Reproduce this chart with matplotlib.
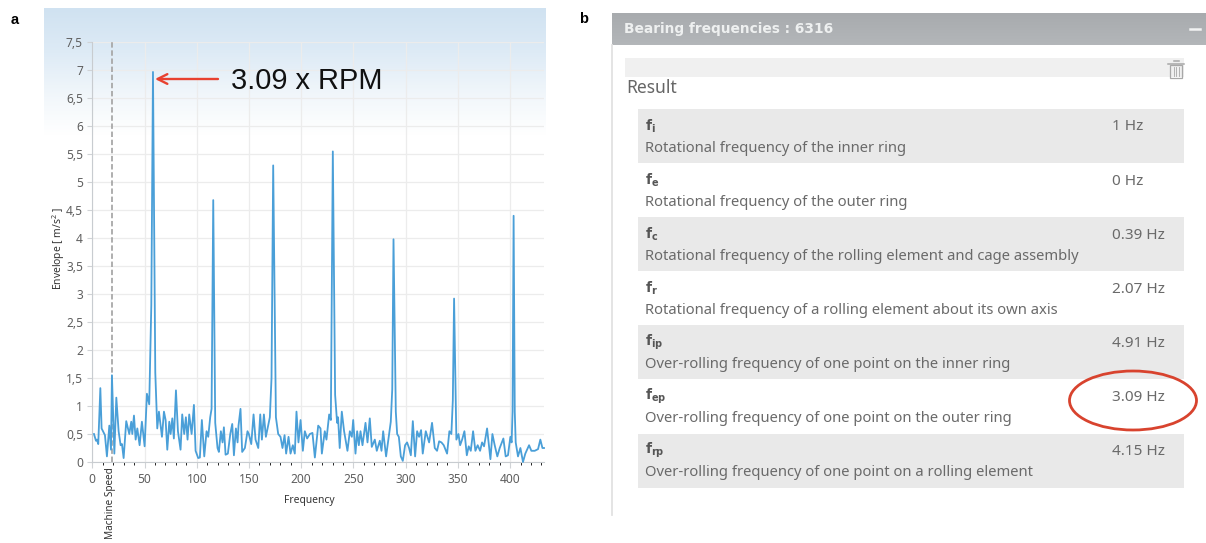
import numpy as np
import matplotlib
matplotlib.use("Agg")
import matplotlib.pyplot as plt
from matplotlib.patches import Rectangle, Ellipse
from matplotlib.colors import LinearSegmentedColormap

freq = [1.6,3.5,4.5,5.7,7.7,8.9,12.1,14.0,16.3,17.9,18.8,21.1,23.0,25.2,27.1,28.4,30.0,32.5,35.4,37.3,38.3,39.9,41.5,43.1,45.3,47.5,50.1,52.3,54.5,56.5,58.1,60.3,62.2,63.8,66.7,68.6,70.2,71.8,73.7,75.0,76.6,78.1,80.1,82.0,84.5,86.1,88.0,89.6,91.2,92.8,95.1,97.3,98.9,101.4,103.0,104.9,107.2,109.4,111.0,112.9,114.2,115.8,117.7,119.9,121.2,123.1,124.7,126.0,127.6,129.8,132.1,134.0,135.6,137.5,139.1,140.0,141.9,143.5,146.1,148.6,149.9,152.2,154.4,156.3,158.9,160.8,162.4,164.3,166.2,168.4,170.0,171.6,173.2,175.8,178.0,180.2,182.1,184.1,185.6,187.9,189.8,192.0,193.9,195.5,197.4,199.4,201.6,203.5,205.7,208.3,210.8,213.1,216.3,218.5,219.8,222.6,224.2,226.8,228.4,230.3,232.5,234.4,235.3,236.9,238.9,241.1,244.3,246.6,248.5,249.8,252.0,253.6,255.2,256.8,258.7,261.6,263.5,265.7,267.6,270.5,272.4,275.3,276.9,278.5,281.3,284.2,285.8,287.2,288.4,290.6,291.9,293.5,295.4,297.3,299.5,301.4,303.3,305.0,306.9,309.1,311.0,312.9,314.8,316.4,319.3,322.5,325.3,327.9,330.1,332.1,334.3,336.5,339.7,341.9,343.8,345.2,346.4,348.6,350.6,352.2,354.1,356.3,358.6,360.4,362.4,364.6,366.8,369.0,371.3,373.2,375.1,378.0,381.2,383.1,385.3,387.8,390.1,393.6,395.8,398.0,400.3,401.5,402.4,403.4,404.5,405.4,407.6,409.9,412.4,414.6,418.2,420.4,423.6,426.8,429.0,431.0,432.5]
envelope = [.5,.38,.4,.32,1.32,.6,.48,.1,.65,.22,1.55,.15,1.15,.55,.3,.32,.07,.73,.5,.72,.5,.83,.4,.6,.3,.72,.28,1.22,1.03,2.8,6.97,1.6,.6,.9,.45,.9,.75,.22,.72,.5,.78,.42,1.28,.55,.22,.85,.5,.8,.4,.85,.5,1.02,.2,.07,.08,.75,.1,.55,.45,.8,.95,4.68,.7,.25,.18,.55,.35,.62,.13,.15,.5,.68,.12,.6,.35,.65,.95,.18,.25,.55,.5,.32,.85,.4,.25,.85,.4,.85,.45,.65,.8,1.5,5.3,.8,.5,.45,.25,.48,.15,.45,.15,.3,.15,.9,.35,.75,.2,.55,.42,.5,.52,.08,.65,.6,.15,.55,.4,.85,.75,5.55,1.2,.7,.8,.25,.9,.55,.2,.55,.45,.75,.15,.55,.3,.55,.3,.7,.35,.78,.27,.4,.2,.38,.2,.55,.1,.5,.72,1.3,3.98,.9,.5,.45,.1,.02,.3,.35,.25,.12,.73,.1,.55,.45,.57,.15,.55,.35,.7,.25,.2,.37,.35,.3,.15,.55,.5,1.1,2.92,.4,.5,.3,.4,.55,.12,.28,.2,.55,.2,.3,.2,.35,.28,.6,.05,.5,.3,.1,.25,.42,.1,.12,.45,.35,.9,4.4,.9,.35,.1,.25,0,.15,.3,.2,.2,.23,.4,.25,.25]
machine_speed = 18.8
x_ticks = [0,50,100,150,200,250,300,350,400]
y_ticks = [0,.5,1,1.5,2,2.5,3,3.5,4,4.5,5,5.5,6,6.5,7,7.5]
y_tick_labels = ['0','0,5','1','1,5','2','2,5','3','3,5','4','4,5','5','5,5','6','6,5','7','7,5']
symbols = ['i','e','c','r','ip','ep','rp']
descriptions = ['Rotational frequency of the inner ring',
                'Rotational frequency of the outer ring',
                'Rotational frequency of the rolling element and cage assembly',
                'Rotational frequency of a rolling element about its own axis',
                'Over-rolling frequency of one point on the inner ring',
                'Over-rolling frequency of one point on the outer ring',
                'Over-rolling frequency of one point on a rolling element']
values = ['1 Hz','0 Hz','0.39 Hz','2.07 Hz','4.91 Hz','3.09 Hz','4.15 Hz']

W, H = 1206, 543
plt.rcParams['font.family'] = ['Noto Sans', 'DejaVu Sans']
plt.rcParams['mathtext.fontset'] = 'custom'
plt.rcParams['mathtext.bf'] = 'DejaVu Sans:bold'
plt.rcParams['mathtext.rm'] = 'Noto Sans'
fig = plt.figure(figsize=(W/100, H/100), dpi=100)
bg = fig.add_axes([0, 0, 1, 1])
bg.set_xlim(0, W); bg.set_ylim(H, 0); bg.axis('off')

# panel a background
cm = LinearSegmentedColormap.from_list('b', [(0, '#d0e2f1'), (.35, '#deebf6'), (.7, '#f2f7fb'), (1, '#ffffff')])
bg.imshow(np.linspace(0, 1, 128)[:, None], cmap=cm, extent=(44, 546, 135, 8), aspect='auto', zorder=0)
bg.set_xlim(0, W); bg.set_ylim(H, 0)

bg.text(15, 20, 'a', fontsize=10.5, fontweight='bold', family='Liberation Sans', ha='center', va='center')
bg.text(584, 19, 'b', fontsize=10.5, fontweight='bold', family='Liberation Sans', ha='center', va='center')

# chart
ax = fig.add_axes([92.3/W, 1-462/H, (544-92.3)/W, (462-42.3)/H])
ax.patch.set_alpha(0)
ax.set_xlim(0, 432.5); ax.set_ylim(0, 7.5)
ax.grid(True, color='#ececec', lw=0.9)
ax.set_axisbelow(True)
for s in ['top', 'right']:
    ax.spines[s].set_visible(False)
for s in ['left', 'bottom']:
    ax.spines[s].set_color('#c8ccd0')
ax.set_xticks(x_ticks)
ax.set_xticks(np.arange(0, 431, 10), minor=True)
ax.set_yticks(y_ticks)
ax.set_yticklabels(y_tick_labels)
ax.tick_params(axis='both', labelsize=8.6, labelcolor='#5f5f5f', color='#d0d3d6', length=0)
ax.tick_params(axis='y', length=3.5, pad=3.2)
ax.tick_params(axis='x', which='major', length=4, pad=4)
ax.tick_params(axis='x', which='minor', length=2.5)
ax.axvline(machine_speed, color='#a8a8a8', lw=1.3, ls=(0, (3, 1.5)), zorder=2)
ax.plot(freq, envelope, color='#4a9fd8', lw=1.3, zorder=3, clip_on=False)

# overlay for annotation text
top = fig.add_axes([0, 0, 1, 1])
top.set_xlim(0, W); top.set_ylim(H, 0); top.axis('off')
top.annotate('', xy=(155, 79), xytext=(218, 79),
             arrowprops=dict(arrowstyle='->,head_width=0.35,head_length=0.7', color='#e8412f', lw=1.7,
                             shrinkA=0, shrinkB=0))
top.text(231, 81, '3.09 x RPM', fontsize=20.9, family='Liberation Sans', color='#111111', va='center', ha='left')
bg.text(309, 500, 'Frequency', fontsize=7.4, color='#333333', ha='center', va='center')
bg.text(59, 249, 'Envelope [ m/s$^2$ ]', fontsize=7.4, color='#333333', ha='center', va='center', rotation=90)
bg.text(111, 503, 'Machine Speed', fontsize=7.2, color='#333333', ha='center', va='center', rotation=90)

# panel b
grad = LinearSegmentedColormap.from_list('g', ['#a8abae', '#b3b6b9'])
bg.imshow(np.linspace(0, 1, 32)[:, None], cmap=grad, extent=(611.5, W, 44.7, 12.7), aspect='auto', zorder=1)
bg.set_xlim(0, W); bg.set_ylim(H, 0)
bg.text(624.5, 29, 'Bearing frequencies : 6316', fontsize=9.9, fontweight='bold', family='DejaVu Sans',
        color='#eef0f0', va='center', zorder=2)
bg.plot([1190, 1200], [29, 29], color='#f2f3f3', lw=1.8, zorder=2)
bg.plot([611.5, 611.5], [45, 515], color='#e2e2e2', lw=1.3)
bg.add_patch(Rectangle((625, 57.7), 559, 19, fc='#f0f0f0', ec='none'))
# trash icon
ic = '#a8a8a8'
bg.add_patch(Rectangle((1170, 65), 11.5, 12.5, fc='none', ec=ic, lw=0.9))
bg.plot([1168, 1184], [63.5, 63.5], color=ic, lw=1.1)
bg.plot([1173.5, 1178.5], [61, 61], color=ic, lw=1.1)
for xx in (1173.5, 1176, 1178.5):
    bg.plot([xx, xx], [67, 76], color=ic, lw=0.6)
bg.text(626, 88, 'Result', fontsize=12.6, color='#666666', va='center')

for i, (sym, d, v) in enumerate(zip(symbols, descriptions, values)):
    y0 = 109 + 54.1 * i
    if i % 2 == 0:
        bg.add_patch(Rectangle((637.5, y0), 546.5, 54, fc='#e9e9e9', ec='none'))
    bg.text(645, y0 + 17, r'$\mathbf{f_{%s}}$' % sym, fontsize=10, color='#555555', va='center')
    bg.text(645, y0 + 39, d, fontsize=10.65, color='#6a6a6a', va='center')
    bg.text(1112, y0 + 18, v, fontsize=11, color='#6a6a6a', va='center')
bg.add_patch(Ellipse((1133, 400.5), 127, 59, fc='none', ec='#d8432e', lw=2, zorder=4))

fig.savefig('out.png', dpi=100)
